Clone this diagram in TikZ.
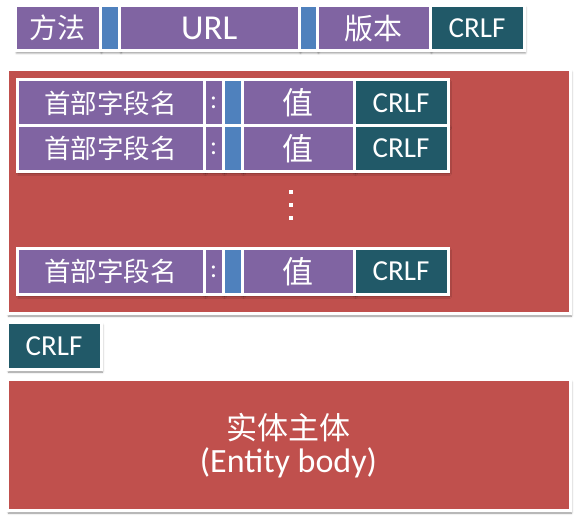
\documentclass[tikz,border=0pt]{standalone}
\usepackage{fontspec}
\setmainfont{Carlito}
\newfontfamily\cjk{Noto Sans CJK SC}
\usetikzlibrary{shadows.blur}
\definecolor{cpurple}{HTML}{8064A2}
\definecolor{cblue}{HTML}{4F81BD}
\definecolor{cteal}{HTML}{215968}
\definecolor{cred}{HTML}{C0504D}
\newcommand{\fs}[1]{\fontsize{#1}{#1}\selectfont}
\tikzset{
  cell/.style={draw=white, line width=3pt, inner sep=0pt, anchor=north west,
    text=white, blur shadow={shadow xshift=1.5pt, shadow yshift=-2pt,
    shadow blur radius=2pt, shadow opacity=45}},
  pcell/.style={cell, fill=cpurple},
  bcell/.style={cell, fill=cblue},
  tcell/.style={cell, fill=cteal},
  rcell/.style={cell, fill=cred},
  dotsq/.style={fill=white, inner sep=0pt, minimum size=4pt}
}
\begin{document}
\begin{tikzpicture}[x=1pt, y=-1pt]
\useasboundingbox (0,0) rectangle (574,518);
% request line
\node[pcell, minimum width=85pt, minimum height=45.5pt] (m) at (13.5,4) {\cjk\fs{28}方法};
\node[bcell, minimum width=19.5pt, minimum height=45.5pt] (s1) at (98.5,4) {};
\node[pcell, minimum width=179.5pt, minimum height=45.5pt] (url) at (118,4) {\fs{35}URL};
\node[bcell, minimum width=18pt, minimum height=45.5pt] (s2) at (297.5,4) {};
\node[pcell, minimum width=113pt, minimum height=45.5pt] (ver) at (315.5,4) {\cjk\fs{29}版本};
\node[tcell, minimum width=94pt, minimum height=45.5pt] (c0) at (428.5,4) {\fs{29}CRLF};
% header block
\node[rcell, minimum width=563pt, minimum height=244pt] (hdr) at (5.5,68.5) {};
\foreach \r/\y in {1/78.5, 2/124, 3/247}{
  \node[pcell, minimum width=187pt, minimum height=46pt] (n\r) at (15.5,\y) {\cjk\fs{26.5}首部字段名};
  \node[pcell, minimum width=19pt, minimum height=46pt] (k\r) at (202.5,\y) {\fs{26}:};
  \node[bcell, minimum width=19pt, minimum height=46pt] (b\r) at (221.5,\y) {};
  \node[pcell, minimum width=112pt, minimum height=46pt] (v\r) at (240.5,\y) {\cjk\fs{31}值};
  \node[tcell, minimum width=94pt, minimum height=46pt] (c\r) at (352.5,\y) {\fs{29}CRLF};
}
\node[dotsq] (d1) at (291,192) {};
\node[dotsq] (d2) at (291,205) {};
\node[dotsq] (d3) at (291,218) {};
% blank line
\node[tcell, minimum width=94pt, minimum height=47pt] (cb) at (5.5,321.5) {\fs{29}CRLF};
% body
\node[rcell, minimum width=563pt, minimum height=131pt, align=center] (body) at (5.5,378.5)
  {{\cjk\fs{31}实体主体}\\[5pt]{\fs{34}(Entity body)}};
\end{tikzpicture}
\end{document}
